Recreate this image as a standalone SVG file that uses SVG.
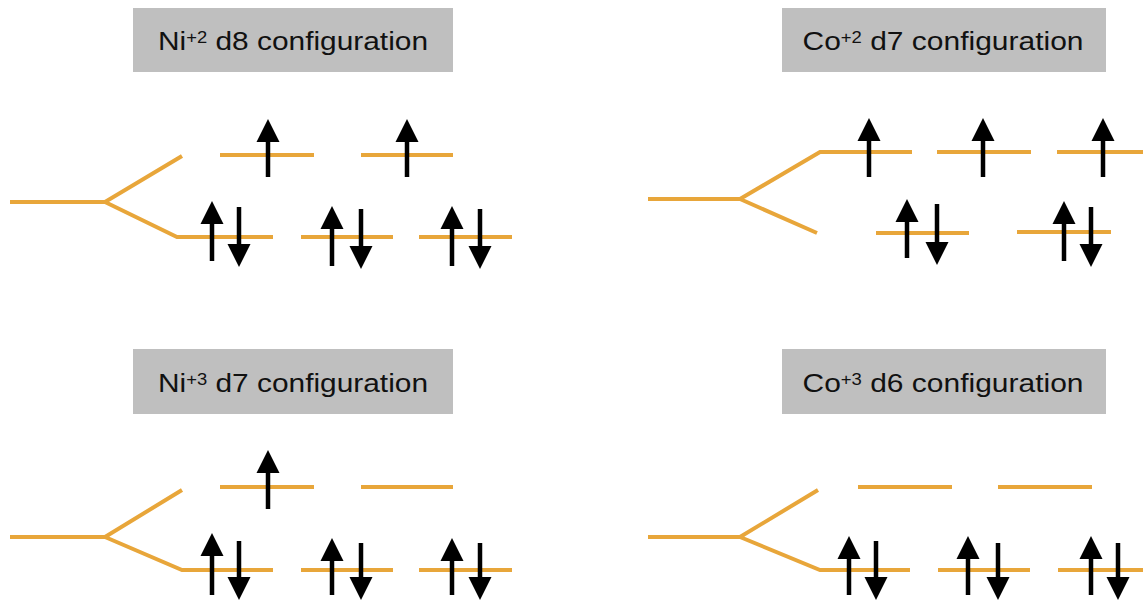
<svg xmlns="http://www.w3.org/2000/svg" width="1143" height="606" viewBox="0 0 1143 606">
<defs>
<marker id="ah" markerUnits="userSpaceOnUse" markerWidth="24" markerHeight="24" viewBox="0 0 24 24" refX="3" refY="12" orient="auto">
<path d="M0,0.5 L23,12 L0,23.5 z" fill="#000"/>
</marker>
<style>
.box{fill:#bfbfbf}
.lbl{font-family:"Liberation Sans",Arial,sans-serif;font-size:26px;fill:#111;text-anchor:middle}
.sup{font-size:16px}
.lv{stroke:#e8a63a;stroke-width:4;fill:none;stroke-linejoin:miter}
.ar{stroke:#000;stroke-width:4.5;marker-end:url(#ah)}
</style>
</defs>
<rect width="1143" height="606" fill="#fff"/>

<g id="ni2">
<rect class="box" x="133" y="8" width="320" height="64"/>
<text class="lbl" x="293" y="50" textLength="270" lengthAdjust="spacingAndGlyphs">Ni<tspan class="sup" dy="-7">+2</tspan><tspan dy="7"> d8 configuration</tspan></text>
<path class="lv" d="M10,202 H105 L182,156 M105,202 L177,237 H273 M220,155 H314 M361,155 H453 M301,237 H393 M419,237 H512"/>
<g>
<line class="ar" x1="268" y1="177" x2="268" y2="139"/>
<line class="ar" x1="407" y1="177" x2="407" y2="139"/>
<line class="ar" x1="212" y1="261" x2="212" y2="221"/>
<line class="ar" x1="239" y1="207" x2="239" y2="247"/>
<line class="ar" x1="332" y1="266" x2="332" y2="226"/>
<line class="ar" x1="361" y1="209" x2="361" y2="249"/>
<line class="ar" x1="452" y1="266" x2="452" y2="226"/>
<line class="ar" x1="480" y1="209" x2="480" y2="249"/>
</g>
</g>

<g id="co2">
<rect class="box" x="782" y="8" width="324" height="64"/>
<text class="lbl" x="943" y="50" textLength="281" lengthAdjust="spacingAndGlyphs">Co<tspan class="sup" dy="-7">+2</tspan><tspan dy="7"> d7 configuration</tspan></text>
<path class="lv" d="M648,199 H740 L820,152 H912 M740,199 L817,233 M937,152 H1031 M1057,152 H1145 M876,233 H969 M1017,232 H1111"/>
<g>
<line class="ar" x1="869" y1="177" x2="869" y2="138"/>
<line class="ar" x1="983" y1="177" x2="983" y2="138"/>
<line class="ar" x1="1103" y1="177" x2="1103" y2="138"/>
<line class="ar" x1="907" y1="258" x2="907" y2="219"/>
<line class="ar" x1="937" y1="204" x2="937" y2="245"/>
<line class="ar" x1="1064" y1="261" x2="1064" y2="221"/>
<line class="ar" x1="1091" y1="207" x2="1091" y2="247"/>
</g>
</g>

<g id="ni3">
<rect class="box" x="133" y="349" width="320" height="65"/>
<text class="lbl" x="293" y="392" textLength="270" lengthAdjust="spacingAndGlyphs">Ni<tspan class="sup" dy="-7">+3</tspan><tspan dy="7"> d7 configuration</tspan></text>
<path class="lv" d="M10,537 H105 L182,490 M105,537 L182,570 H273 M220,487 H314 M361,487 H453 M301,570 H393 M419,570 H512"/>
<g>
<line class="ar" x1="268" y1="509" x2="268" y2="470"/>
<line class="ar" x1="212" y1="595" x2="212" y2="553"/>
<line class="ar" x1="239" y1="541" x2="239" y2="580"/>
<line class="ar" x1="332" y1="595" x2="332" y2="558"/>
<line class="ar" x1="361" y1="543" x2="361" y2="580"/>
<line class="ar" x1="452" y1="595" x2="452" y2="558"/>
<line class="ar" x1="480" y1="543" x2="480" y2="580"/>
</g>
</g>

<g id="co3">
<rect class="box" x="782" y="349" width="324" height="65"/>
<text class="lbl" x="943" y="392" textLength="281" lengthAdjust="spacingAndGlyphs">Co<tspan class="sup" dy="-7">+3</tspan><tspan dy="7"> d6 configuration</tspan></text>
<path class="lv" d="M648,537 H740 L818,490 M740,537 L820,570 H910 M858,487 H952 M998,487 H1092 M938,570 H1030 M1058,570 H1145"/>
<g>
<line class="ar" x1="849" y1="595" x2="849" y2="556"/>
<line class="ar" x1="876" y1="541" x2="876" y2="580"/>
<line class="ar" x1="968" y1="595" x2="968" y2="556"/>
<line class="ar" x1="998" y1="543" x2="998" y2="580"/>
<line class="ar" x1="1091" y1="595" x2="1091" y2="556"/>
<line class="ar" x1="1118" y1="543" x2="1118" y2="580"/>
</g>
</g>
</svg>
